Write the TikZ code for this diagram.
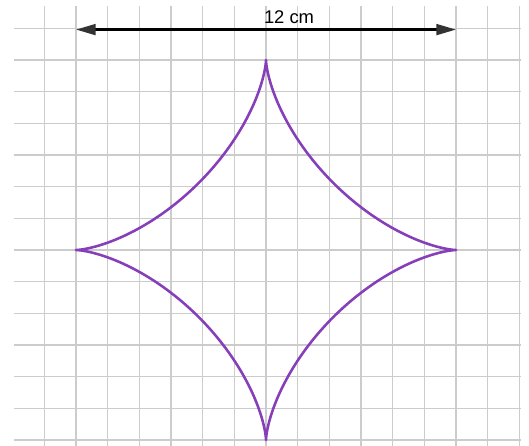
\documentclass[tikz,border=0pt]{standalone}
\usepackage{fontspec}
\setmainfont{Liberation Sans}
\usetikzlibrary{arrows.meta}
\definecolor{gridgray}{RGB}{204,204,204}
\definecolor{astroid}{RGB}{135,62,185}
\tikzset{
  gridline/.style={gridgray, line width=1.2pt},
  curveline/.style={astroid, line width=2.3pt, line join=round},
  dimline/.style={black, line width=2.2pt,
    {Triangle[length=0.62cm, width=0.34cm, fill=black!80, color=black!80]}-{Triangle[length=0.62cm, width=0.34cm, fill=black!80, color=black!80]}},
  dimlabel/.style={font=\fontsize{16.5}{19}\selectfont, inner sep=0pt, anchor=base west}
}
\begin{document}
\begin{tikzpicture}
\useasboundingbox (-8.399,-6.157) rectangle (8.304,7.894);
\draw[gridline, step=1] (-7.95,-6.3) grid (8.05,7.7);
\draw[curveline, domain=0:360, samples=721, variable=\t]
  plot ({6*cos(\t)*cos(\t)*cos(\t)},{6*sin(\t)*sin(\t)*sin(\t)}) -- cycle;
\coordinate (L) at (-6,6.96);
\coordinate (R) at (6,6.96);
\draw[dimline] (L) -- (R);
\node[dimlabel] (lab) at (-0.07,7.16) {12 cm};
\end{tikzpicture}
\end{document}
